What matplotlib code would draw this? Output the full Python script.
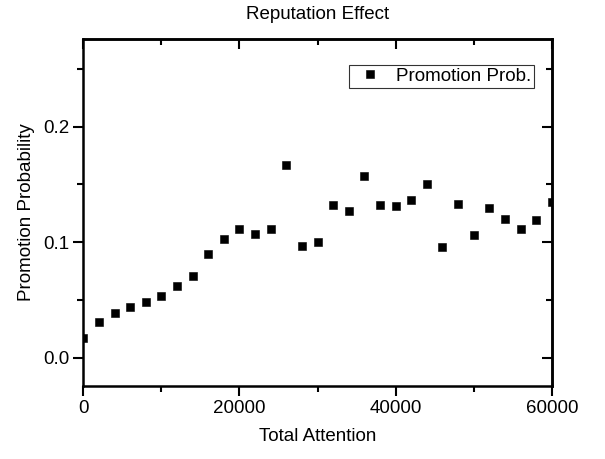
import numpy as np
import matplotlib
matplotlib.use("Agg")
import matplotlib.pyplot as plt
from matplotlib.ticker import MultipleLocator

plt.rcParams['font.family'] = ['Liberation Sans', 'DejaVu Sans']

# data
attention = [0, 2000, 4000, 6000, 8000, 10000, 12000, 14000, 16000, 18000,
             20000, 22000, 24000, 26000, 28000, 30000, 32000, 34000, 36000, 38000,
             40000, 42000, 44000, 46000, 48000, 50000, 52000, 54000, 56000, 58000,
             60000]
prob = [0.017, 0.031, 0.039, 0.0435, 0.048, 0.053, 0.062, 0.071, 0.0896, 0.103,
        0.1115, 0.107, 0.1115, 0.167, 0.0965, 0.0997, 0.1317, 0.127, 0.157, 0.1317,
        0.131, 0.1366, 0.1506, 0.0954, 0.1326, 0.1063, 0.1297, 0.120, 0.1117, 0.1194,
        0.1346]

fig = plt.figure(figsize=(6.05, 4.59), dpi=100)
ax = fig.add_axes([0.1377, 0.159, 0.7743, 0.7567])

ax.plot(attention, prob, 's', color='black', ms=5.8, mew=0.4, label='Promotion Prob.')

ax.set_xlim(0, 60000)
ax.set_ylim(-0.0245, 0.276)
ax.xaxis.set_major_locator(MultipleLocator(20000))
ax.xaxis.set_minor_locator(MultipleLocator(10000))
ax.yaxis.set_major_locator(MultipleLocator(0.1))
ax.yaxis.set_minor_locator(MultipleLocator(0.05))

for s in ax.spines.values():
    s.set_linewidth(1.8)

# outward ticks on left/bottom, inward on top/right
ax.tick_params(which='both', direction='out', width=1.5, labelsize=13.5, pad=3)
ax.tick_params(which='major', length=7)
ax.tick_params(which='minor', length=4)
ax.tick_params(which='both', top=False, right=False)
sec = ax.secondary_xaxis('top')
sec.xaxis.set_major_locator(MultipleLocator(20000))
sec.xaxis.set_minor_locator(MultipleLocator(10000))
sec.tick_params(which='both', direction='in', width=1.5, labeltop=False)
sec.tick_params(which='major', length=7)
sec.tick_params(which='minor', length=4)
sec.spines['top'].set_linewidth(1.8)
sec2 = ax.secondary_yaxis('right')
sec2.yaxis.set_major_locator(MultipleLocator(0.1))
sec2.yaxis.set_minor_locator(MultipleLocator(0.05))
sec2.tick_params(which='both', direction='in', width=1.5, labelright=False)
sec2.tick_params(which='major', length=7)
sec2.tick_params(which='minor', length=4)
sec2.spines['right'].set_linewidth(1.8)

ax.yaxis.set_major_formatter(matplotlib.ticker.FormatStrFormatter('%.1f'))

ax.set_xlabel('Total Attention', fontsize=13.5, labelpad=8)
ax.set_ylabel('Promotion Probability', fontsize=13.5, labelpad=6)
ax.set_title('Reputation Effect', fontsize=13.5, pad=14)

leg = ax.legend(loc='upper right', bbox_to_anchor=(0.962, 0.924), fontsize=13.5,
                frameon=True, fancybox=False, handlelength=2.0, handletextpad=0.36,
                borderpad=0.15, borderaxespad=0.0)
leg.get_frame().set_edgecolor('black')
leg.get_frame().set_linewidth(0.8)

fig.savefig('out.png', dpi=100)
